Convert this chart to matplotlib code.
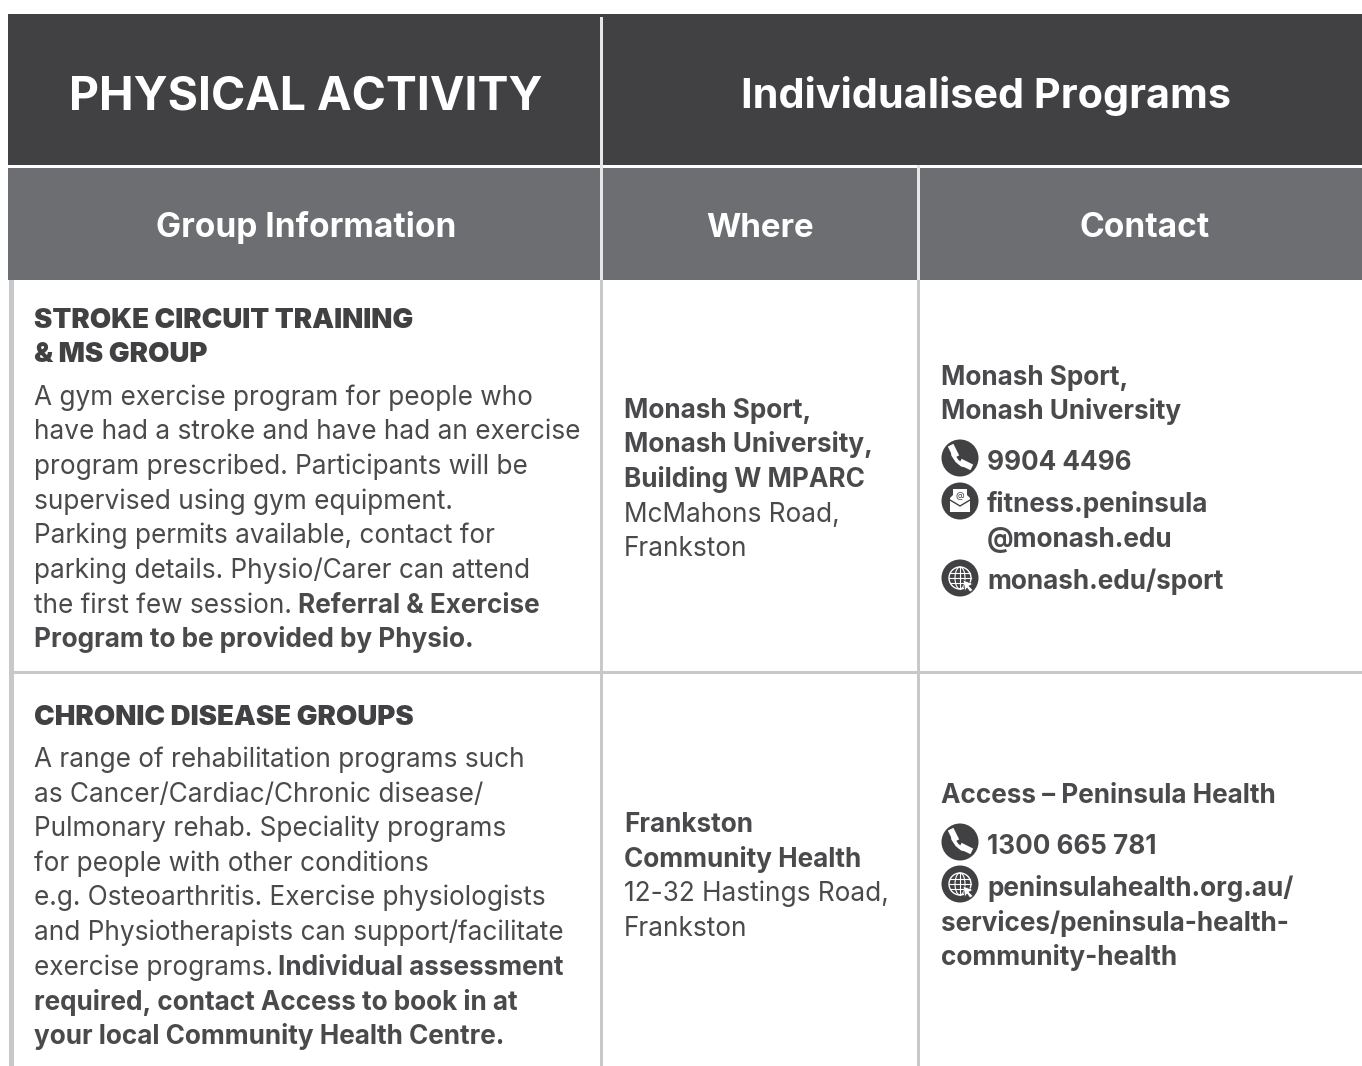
import matplotlib
matplotlib.use('Agg')
import matplotlib.pyplot as plt
from matplotlib.patches import Rectangle, Circle, Polygon, Ellipse

DARK = '#414042'
MID = '#6d6e71'
LINE = '#c7c8ca'
TEXT = '#4a4a4c'
FONT = 'Inter'
BODY = 18.85
BOLD = 18.8

title_left = 'PHYSICAL ACTIVITY'
title_right = 'Individualised Programs'
col_heads = ['Group Information', 'Where', 'Contact']

head1 = ['STROKE CIRCUIT TRAINING', '& MS GROUP']
body1 = ['A gym exercise program for people who',
         'have had a stroke and have had an exercise',
         'program prescribed. Participants will be',
         'supervised using gym equipment.',
         'Parking permits available, contact for',
         'parking details. Physio/Carer can attend',
         'the first few session.']
body1_bold = ['Referral & Exercise', 'Program to be provided by Physio.']

head2 = ['CHRONIC DISEASE GROUPS']
body2 = ['A range of rehabilitation programs such',
         'as Cancer/Cardiac/Chronic disease/',
         'Pulmonary rehab. Speciality programs',
         'for people with other conditions',
         'e.g. Osteoarthritis. Exercise physiologists',
         'and Physiotherapists can support/facilitate',
         'exercise programs.']
body2_bold = ['Individual assessment',
              'required, contact Access to book in at',
              'your local Community Health Centre.']

where1_bold = ['Monash Sport,', 'Monash University,', 'Building W MPARC']
where1 = ['McMahons Road,', 'Frankston']
where2_bold = ['Frankston', 'Community Health']
where2 = ['12-32 Hastings Road,', 'Frankston']

contact1 = ['Monash Sport,', 'Monash University']
phone1 = '9904 4496'
mail1 = ['fitness.peninsula', '@monash.edu']
web1 = 'monash.edu/sport'
contact2 = 'Access \u2013 Peninsula Health'
phone2 = '1300 665 781'
web2 = ['peninsulahealth.org.au/', 'services/peninsula-health-', 'community-health']

fig = plt.figure(figsize=(13.62, 10.66), dpi=100)
ax = fig.add_axes([0, 0, 1, 1])
ax.set_xlim(0, 1362)
ax.set_ylim(1066, 0)
ax.axis('off')


def box(x0, y0, x1, y1, c):
    ax.add_patch(Rectangle((x0, y0), x1-x0, y1-y0, fc=c, ec='none'))


def put(x, y, s, size=BODY, weight='normal', c=TEXT, ha='left'):
    return ax.text(x, y, s, fontsize=size, fontweight=weight, color=c, ha=ha, va='baseline', family=FONT)


def bold(x, y, s):
    return put(x, y, s, size=BOLD, weight='bold')


def phone_icon(x, y):
    ax.add_patch(Circle((x, y), 18.5, fc=DARK, ec='none'))
    ax.plot([x-7, x-7, x-3, x+2, x+8], [y-8, y-3, y+3, y+7, y+8], color='white', lw=2.5)
    ax.plot([x-8, x-5], [y-10, y-4], color='white', lw=4.5)
    ax.plot([x+3, x+9], [y+5, y+8], color='white', lw=4.5)


def mail_icon(x, y):
    ax.add_patch(Circle((x, y), 18.5, fc=DARK, ec='none'))
    ax.add_patch(Polygon([(x-10, y-3), (x-7, y-6), (x-7, y-12), (x+7, y-12), (x+7, y-6), (x+10, y-3),
                          (x+10, y+11), (x-10, y+11)], fc='white', ec='none'))
    ax.plot([x-10, x, x+10], [y-1, y+5, y-1], color=DARK, lw=1)
    ax.text(x, y-5, '@', fontsize=6.5, color=DARK, ha='center', va='center', family=FONT)


def web_icon(x, y):
    ax.add_patch(Circle((x, y), 18.5, fc=DARK, ec='none'))
    ax.add_patch(Circle((x, y), 11, fc='none', ec='white', lw=1))
    ax.add_patch(Ellipse((x, y), 10, 22, fc='none', ec='white', lw=0.8))
    ax.plot([x-11, x+11], [y, y], color='white', lw=0.8)
    ax.plot([x-10, x+10], [y-5, y-5], color='white', lw=0.8)
    ax.plot([x-10, x+10], [y+5, y+5], color='white', lw=0.8)
    ax.plot([x, x], [y-11, y+11], color='white', lw=0.8)
    ax.add_patch(Polygon([(x+3, y+2), (x+13, y+6), (x+9, y+8), (x+13, y+12), (x+10, y+14), (x+7, y+10), (x+5, y+13)],
                         fc='white', ec=DARK, lw=0.5))


# header bands and rules
box(8, 14, 1362, 165, DARK)
box(8, 168, 1362, 280, MID)
box(9, 280, 14, 1066, LINE)
box(600, 280, 603, 1066, LINE)
box(917, 280, 920, 1066, LINE)
box(600, 17, 603, 280, '#e6e7e8')
box(917, 165, 920, 280, '#e6e7e8')
box(9, 671, 1362, 674, LINE)

put(306, 109, title_left, size=33.4, weight='bold', c='white', ha='center')
put(986, 108, title_right, size=29.8, weight='bold', c='white', ha='center')
put(306, 237, col_heads[0], size=24.1, weight='bold', c='white', ha='center')
put(760, 237, col_heads[1], size=23.8, weight='bold', c='white', ha='center')
put(1145, 237, col_heads[2], size=24.1, weight='bold', c='white', ha='center')

# first row, group info
for y, s in zip([328, 362], head1):
    put(34, y, s, size=19.9, weight='black', c=DARK)
for y, s in zip([405, 439, 474, 509, 543, 578, 613], body1):
    put(34, y, s)
bold(298, 613, body1_bold[0])
bold(34, 647, body1_bold[1])

# second row, group info
put(34, 725, head2[0], size=19.9, weight='black', c=DARK)
for y, s in zip([767, 802, 836, 871, 905, 940, 975], body2):
    put(34, y, s)
bold(278, 975, body2_bold[0])
bold(34, 1010, body2_bold[1])
bold(34, 1044, body2_bold[2])

# where
for y, s in zip([418, 452, 487], where1_bold):
    bold(624, y, s)
for y, s in zip([522, 556], where1):
    put(624, y, s)
for y, s in zip([832, 867], where2_bold):
    bold(624, y, s)
for y, s in zip([901, 936], where2):
    put(624, y, s)

# contact, first row
for y, s in zip([385, 419], contact1):
    bold(941, y, s)
phone_icon(960, 458)
bold(987, 470, phone1)
mail_icon(960, 501)
bold(987, 512, mail1[0])
bold(987, 547, mail1[1])
web_icon(960, 578)
bold(987, 589, web1)

# contact, second row
bold(941, 803, contact2)
phone_icon(960, 842)
bold(987, 854, phone2)
web_icon(960, 884)
bold(987, 896, web2[0])
bold(941, 931, web2[1])
bold(941, 965, web2[2])

plt.savefig('out.png', dpi=100)
